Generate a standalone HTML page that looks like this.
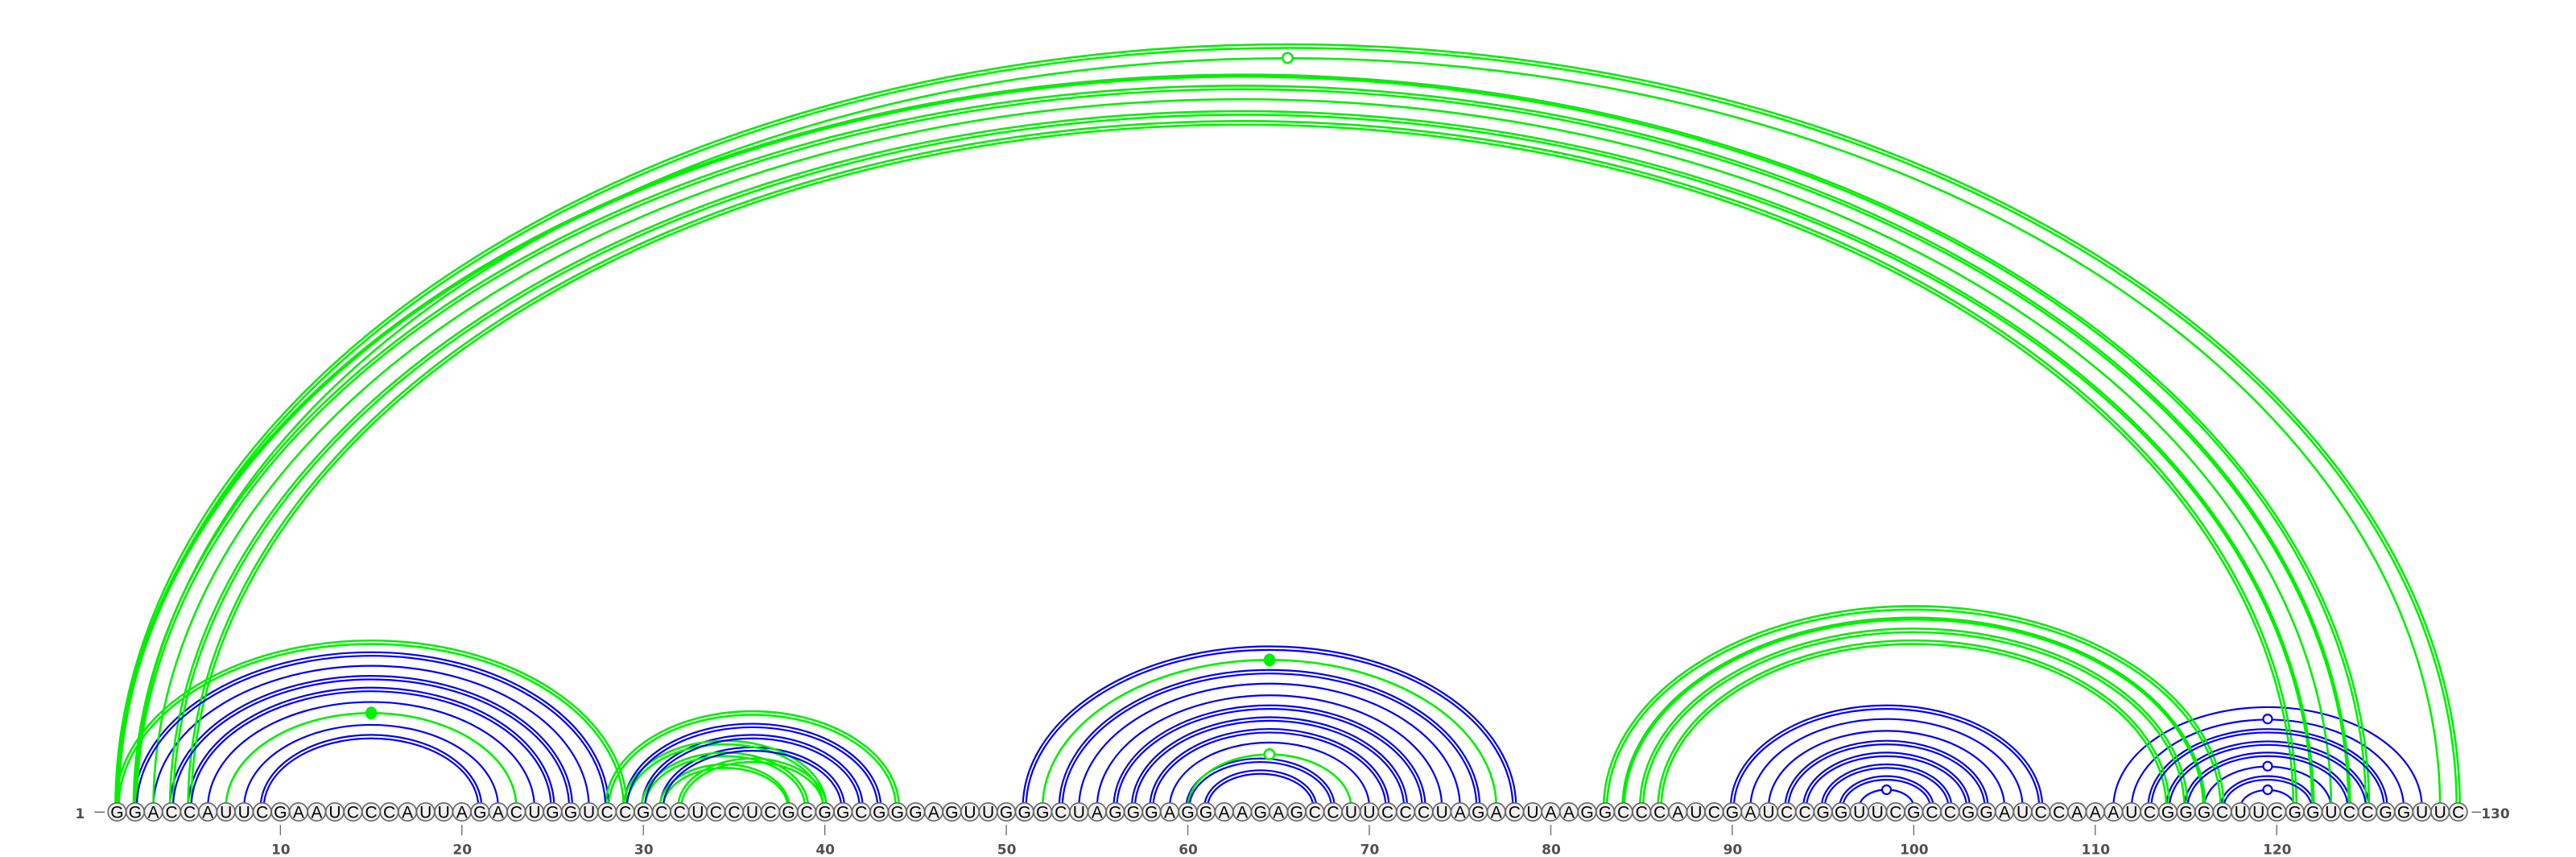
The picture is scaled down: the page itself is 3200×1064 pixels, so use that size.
<!DOCTYPE html>
<html lang="en">
<head>
<meta charset="utf-8">
<title>RNA secondary structure arc diagram</title>
<style>
  html, body { margin: 0; padding: 0; background: #ffffff; }
  svg { display: block; }
  .base { font-family: "Liberation Sans", sans-serif; font-size: 21px; fill: #000; text-anchor: middle; }
  .axis-text { font-family: "DejaVu Sans", sans-serif; font-size: 17px; font-weight: bold; fill: #505050; }
</style>
</head>
<body>
<svg id="chart" xmlns="http://www.w3.org/2000/svg" width="3200" height="1064" viewBox="0 0 3200 1064">
  <rect x="0" y="0" width="3200" height="1064" fill="#ffffff"/>
  <g id="arcs-back" fill="none"></g>
  <g id="arcs-front" fill="none"></g>
  <g id="marks"></g>
  <g id="nodes"></g>
  <g id="axis"></g>
</svg>
<script>
// ---- data ----
const sequence = "GGACCAUUCGAAUCCCAUUAGACUGGUCCGCCUCCUCGCGGCGGGAGUUGGGCUAGGGAGGAAGAGCCUUCCCUAGACUAAGGCCCAUCGAUCCGGUUCGCCGGAUCCAAAUCGGGCUUCGGUCCGGUUC".split("");
const tickPositions = [10, 20, 30, 40, 50, 60, 70, 80, 90, 100, 110, 120];
const firstPosition = 1;
const lastPosition = 130;

const blueDoubleArcs = [
  [2, 28], [4, 26], [5, 25], [9, 21],
  [29, 43], [30, 42], [31, 41],
  [51, 78], [53, 76], [56, 73], [57, 72], [58, 71], [60, 68], [61, 67],
  [90, 107], [93, 104], [94, 103], [95, 102], [96, 101],
  [113, 126], [114, 125], [115, 124], [117, 122]
];
const blueSingleArcs = [
  [3, 27], [6, 24], [8, 22],
  [54, 75], [55, 74], [59, 70],
  [91, 106], [92, 105], [97, 100],
  [111, 128], [112, 127], [116, 123], [118, 121]
];
const greenDoubleArcs = [
  [1, 130], [1, 125], [2, 124], [4, 122], [5, 121],
  [1, 29], [28, 44], [29, 40], [30, 39], [32, 40], [31, 38],
  [83, 117], [84, 116], [85, 115], [86, 114]
];
const greenSingleArcs = [
  [2, 129], [3, 123], [7, 23], [52, 77], [60, 69]
];
const greenHollowMarks = [[2, 129], [60, 69]];
const greenFilledMarks = [[7, 23], [52, 77]];
const blueHollowMarks = [[97, 100], [112, 127], [116, 123], [118, 121]];

// ---- scales ----
const X0 = 145.4, DX = 22.545, BASE_Y = 1002.5, NODE_Y = 1008, K = 0.65;
const xScale = n => X0 + (n - 1) * DX;
const halfWidth = (i, j) => (xScale(j) - xScale(i)) / 2;
const apexY = (i, j) => BASE_Y - K * halfWidth(i, j);
const GAP = 2;
const tightLeft = { "1-125": 1.1, "84-116": 1.1 };
const tightRight = { "2-124": 1, "4-122": 1, "84-116": 1.1, "31-38": 1 };

const NS = "http://www.w3.org/2000/svg";
const back = document.getElementById("arcs-back");
const front = document.getElementById("arcs-front");
const marks = document.getElementById("marks");
const nodes = document.getElementById("nodes");
const axis = document.getElementById("axis");

function add(parent, tag, props) {
  const el = document.createElementNS(NS, tag);
  for (const key in props) el.setAttribute(key, props[key]);
  parent.appendChild(el);
  return el;
}

function arcPath(xl, xr, ry) {
  const rx = (xr - xl) / 2;
  return "M" + xl.toFixed(2) + " " + BASE_Y + " A" + rx.toFixed(2) + " " + ry.toFixed(2) + " 0 0 1 " + xr.toFixed(2) + " " + BASE_Y;
}

function singleD(pair) {
  return arcPath(xScale(pair[0]), xScale(pair[1]), K * halfWidth(pair[0], pair[1]));
}
function outerD(pair) {
  const key = pair[0] + "-" + pair[1];
  const gl = tightLeft[key] || GAP, gr = tightRight[key] || GAP;
  return arcPath(xScale(pair[0]) - gl, xScale(pair[1]) + gr, K * halfWidth(pair[0], pair[1]) + gl * 1.1);
}
function innerD(pair) {
  const key = pair[0] + "-" + pair[1];
  const gl = tightLeft[key] || GAP, gr = tightRight[key] || GAP;
  return arcPath(xScale(pair[0]) + gl, xScale(pair[1]) - gr, K * halfWidth(pair[0], pair[1]) - gl * 1.1);
}

const BLUE = "#0000f0", GREEN = "#00f000";
const BLUE_W = 2.2, GREEN_W = 2.6;

// blue outer lines
blueDoubleArcs.forEach(pair => {
  const p = add(back, "path", { d: outerD(pair), stroke: BLUE, "stroke-width": BLUE_W });
  
  
});
// blue single lines
blueSingleArcs.forEach(pair => {
  const p = add(back, "path", { d: singleD(pair), stroke: BLUE, "stroke-width": BLUE_W });
  
  
});
// green inner lines
greenDoubleArcs.forEach(pair => {
  const p = add(back, "path", { d: innerD(pair), stroke: GREEN, "stroke-width": GREEN_W });
  
  
});
// green outer lines
greenDoubleArcs.forEach(pair => {
  const p = add(back, "path", { d: outerD(pair), stroke: GREEN, "stroke-width": GREEN_W });
  
  
});
// green single lines
greenSingleArcs.forEach(pair => {
  const p = add(back, "path", { d: singleD(pair), stroke: GREEN, "stroke-width": GREEN_W });
  
  
});
// blue inner lines
blueDoubleArcs.forEach(pair => {
  const p = add(front, "path", { d: innerD(pair), stroke: BLUE, "stroke-width": BLUE_W });
  
  
});

// apex markers
greenHollowMarks.forEach(pair => {
  const c = add(marks, "circle", {
    cx: (xScale(pair[0]) + xScale(pair[1])) / 2, cy: apexY(pair[0], pair[1]),
    r: 6.2, fill: "#ffffff", stroke: GREEN, "stroke-width": 2.6
  });
  
  
});
greenFilledMarks.forEach(pair => {
  const c = add(marks, "ellipse", {
    cx: (xScale(pair[0]) + xScale(pair[1])) / 2, cy: apexY(pair[0], pair[1]),
    rx: 7.2, ry: 8, fill: GREEN
  });
  
  
});
blueHollowMarks.forEach(pair => {
  const c = add(marks, "circle", {
    cx: (xScale(pair[0]) + xScale(pair[1])) / 2, cy: apexY(pair[0], pair[1]),
    r: 5.5, fill: "#ffffff", stroke: BLUE, "stroke-width": 2.2
  });
  
  
});

// sequence nodes
sequence.forEach((base, idx) => {
  const n = idx + 1;
  const c = add(nodes, "circle", {
    cx: xScale(n), cy: NODE_Y, r: 11.2,
    fill: "#f0f0f0", stroke: "#666666", "stroke-width": 1.7
  });
  
  
  const t = add(nodes, "text", { x: xScale(n), y: NODE_Y + 7.5, class: "base" });
  t.textContent = base;
  
  
});

// ticks
tickPositions.forEach(pos => {
  const l = add(axis, "line", {
    x1: xScale(pos), x2: xScale(pos), y1: 1024, y2: 1037,
    stroke: "#666666", "stroke-width": 1.3
  });
  
  
  const t = add(axis, "text", { x: xScale(pos) + 0.5, y: 1060.5, "text-anchor": "middle", class: "axis-text" });
  t.textContent = String(pos);
  
  
});

// start and end labels
const startDash = add(axis, "line", {
  x1: xScale(firstPosition) - 28.2, x2: xScale(firstPosition) - 15.4, y1: 1008.3, y2: 1008.3,
  stroke: "#666666", "stroke-width": 1.4
});


const startLabel = add(axis, "text", { x: xScale(firstPosition) - 40, y: 1015.8, "text-anchor": "end", class: "axis-text" });
startLabel.textContent = String(firstPosition);



const endDash = add(axis, "line", {
  x1: xScale(lastPosition) + 16.8, x2: xScale(lastPosition) + 28.5, y1: 1008.3, y2: 1008.3,
  stroke: "#666666", "stroke-width": 1.4
});


const endLabel = add(axis, "text", { x: xScale(lastPosition) + 28.5, y: 1015.8, "text-anchor": "start", class: "axis-text" });
endLabel.textContent = String(lastPosition);


</script>
</body>
</html>
